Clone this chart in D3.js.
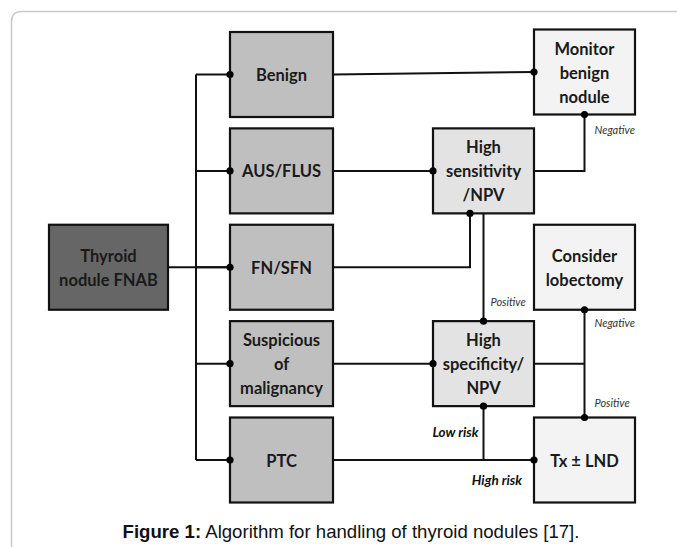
<!DOCTYPE html>
<html><head><meta charset="utf-8">
<script src="https://cdn.jsdelivr.net/npm/d3@7"></script>
<style>
html,body{margin:0;padding:0;background:#fff;}
svg{display:block;}
</style></head>
<body>
<svg id="chart" width="677" height="547"></svg>
<script>
// ---- data ----
const nodeIds    = ["fnab","benign","aus","fn","susp","ptc","sens","spec","monitor","lobe","tx"];
const nodeLabels = [["Thyroid","nodule FNAB"],["Benign"],["AUS/FLUS"],["FN/SFN"],["Suspicious","of","malignancy"],["PTC"],
                    ["High","sensitivity","/NPV"],["High","specificity/","NPV"],["Monitor","benign","nodule"],["Consider","lobectomy"],["Tx ± LND"]];
const nodeCols   = [0,1,1,1,1,1,2,2,3,3,3];
const nodeRows   = [2,0,1,2,3,4,1,3,0,2,4];
const nodeKinds  = ["source","category","category","category","category","category","test","test","outcome","outcome","outcome"];
const edgeLabels = ["Negative","Positive","Negative","Positive","Low risk","High risk"];
const captionBold = "Figure 1:";
const captionText = " Algorithm for handling of thyroid nodules [17].";

// ---- layout ----
const svg = d3.select("#chart");
const rowY = d3.scaleLinear().domain([0,4]).range([74.5,460]);
const colX = d3.scaleOrdinal().domain([0,1,2,3]).range([49,230,433,534]);
const colW = d3.scaleOrdinal().domain([0,1,2,3]).range([119,103,101,101]);
const boxH = 85;
const fills = {source:"#666666",category:"#bfbfbf",test:"#e3e3e3",outcome:"#f3f3f3"};
const font = "Lato, 'Open Sans', sans-serif";

const nodes = nodeIds.map((id,i)=>({id, lines:nodeLabels[i], col:nodeCols[i], row:nodeRows[i], kind:nodeKinds[i]}));
nodes.forEach(n=>{
  n.x = colX(n.col); n.w = colW(n.col);
  n.cy = rowY(n.row) + (n.id==="monitor" ? -2.5 : 0);
  n.y = n.cy - boxH/2; n.h = boxH;
  n.cx = n.x + n.w/2;
  n.r = n.x + n.w; n.b = n.y + n.h;
});
const N = Object.fromEntries(nodes.map(n=>[n.id,n]));

// outer card
svg.append("path")
  .attr("d", "M11.5,547 V21.5 Q11.5,11.5 21.5,11.5 H677")
  .attr("fill","none").attr("stroke","#c9c9c9").attr("stroke-width",1.5);

// ---- edges ----
const line = d3.line();
const edges = [];
const dots = [];
const busX = 196;
edges.push([[N.fnab.r, N.fn.cy],[N.fn.x, N.fn.cy]]);
edges.push([[busX, N.benign.cy],[busX, N.ptc.cy]]);
["benign","aus","fn","susp","ptc"].forEach(id=>{
  edges.push([[busX, N[id].cy],[N[id].x, N[id].cy]]);
  dots.push([N[id].x, N[id].cy]);
});
edges.push([[N.benign.r, N.benign.cy],[N.monitor.x, N.monitor.cy]]); dots.push([N.monitor.x, N.monitor.cy]);
edges.push([[N.aus.r, N.aus.cy],[N.sens.x, N.sens.cy]]); dots.push([N.sens.x, N.sens.cy]);
edges.push([[N.susp.r, N.susp.cy],[N.spec.x, N.spec.cy]]); dots.push([N.spec.x, N.spec.cy]);
edges.push([[N.ptc.r, N.ptc.cy],[N.tx.x, N.tx.cy]]); dots.push([N.tx.x, N.tx.cy]);
edges.push([[N.sens.r, N.sens.cy],[N.monitor.cx, N.sens.cy],[N.monitor.cx, N.monitor.b]]); dots.push([N.monitor.cx, N.monitor.b]);
const fnIn = N.sens.cx - 13.5;
edges.push([[N.fn.r, N.fn.cy],[fnIn, N.fn.cy],[fnIn, N.sens.b]]); dots.push([fnIn, N.sens.b]);
edges.push([[N.spec.cx, N.sens.b],[N.spec.cx, N.spec.y]]); dots.push([N.spec.cx, N.spec.y]);
edges.push([[N.spec.r, N.spec.cy],[N.lobe.cx, N.spec.cy]]);
edges.push([[N.lobe.cx, N.lobe.b],[N.lobe.cx, N.tx.y]]); dots.push([N.lobe.cx, N.lobe.b]); dots.push([N.lobe.cx, N.tx.y]);
edges.push([[N.spec.cx, N.spec.b],[N.spec.cx, N.ptc.cy]]); dots.push([N.spec.cx, N.spec.b]);

svg.append("g").selectAll("path").data(edges).join("path")
  .attr("d", d=>line(d)).attr("fill","none").attr("stroke","#111").attr("stroke-width",2);

// ---- boxes ----
const g = svg.append("g").selectAll("g").data(nodes).join("g");
g.append("rect")
  .attr("x",d=>d.x).attr("y",d=>d.y).attr("width",d=>d.w).attr("height",d=>d.h)
  .attr("fill",d=>fills[d.kind]).attr("stroke","#111").attr("stroke-width",2.2);
const lh = 24;
g.each(function(d){
  const t = d3.select(this).append("text")
    .attr("text-anchor","middle").attr("font-family",font).attr("font-weight","bold")
    .attr("font-size",16.5).attr("fill","#1a1a1a");
  const n = d.lines.length;
  d.lines.forEach((s,i)=>{
    t.append("tspan").attr("x",d.cx)
     .attr("y", d.cy + (i-(n-1)/2)*lh + 6.5)
     .text(s);
  });
});

svg.append("g").selectAll("circle").data(dots).join("circle")
  .attr("cx",d=>d[0]).attr("cy",d=>d[1]).attr("r",3.6).attr("fill","#000");

// ---- edge labels ----
const lblPos = [
  {x:N.monitor.cx+10, y:N.monitor.b+19, anchor:"start", size:11, bold:false},
  {x:N.spec.cx+7,     y:N.spec.y-15,    anchor:"start", size:11, bold:false},
  {x:N.lobe.cx+10,    y:N.lobe.b+17,    anchor:"start", size:11, bold:false},
  {x:N.lobe.cx+10,    y:N.tx.y-11,      anchor:"start", size:11, bold:false},
  {x:N.spec.cx-5,     y:N.ptc.cy-23,    anchor:"end",   size:13.5, bold:true},
  {x:N.tx.x-12,       y:N.ptc.cy+25,    anchor:"end",   size:13.5, bold:true}
];
svg.append("g").selectAll("text").data(edgeLabels).join("text")
  .attr("x",(d,i)=>lblPos[i].x).attr("y",(d,i)=>lblPos[i].y)
  .attr("text-anchor",(d,i)=>lblPos[i].anchor)
  .attr("font-family",font).attr("font-style","italic")
  .attr("font-weight",(d,i)=>lblPos[i].bold?"bold":"normal")
  .attr("font-size",(d,i)=>lblPos[i].size)
  .attr("fill",(d,i)=>lblPos[i].bold?"#111":"#333")
  .text(d=>d);

// ---- caption ----
const cap = svg.append("text").attr("x",351).attr("y",538).attr("text-anchor","middle")
  .attr("font-family","'Liberation Sans', Arial, sans-serif").attr("font-size",18.6).attr("fill","#111");
cap.append("tspan").attr("font-weight","bold").text(captionBold);
cap.append("tspan").text(captionText);
</script>
</body></html>
